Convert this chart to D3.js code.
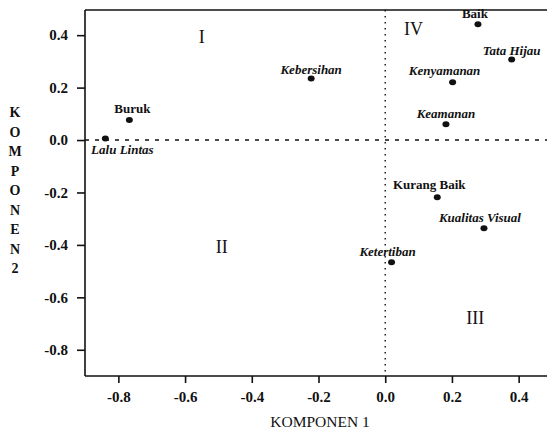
<!DOCTYPE html>
<html>
<head>
<meta charset="utf-8">
<script src="https://cdn.jsdelivr.net/npm/d3@7"></script>
<style>
  html, body { margin: 0; padding: 0; background: #fff; }
  svg { display: block; }
  text { font-family: "Liberation Serif", "DejaVu Serif", serif; fill: #111; }
</style>
</head>
<body>
<svg id="chart" width="547" height="436"></svg>
<script>
// ---- data ----
const names = ["Baik", "Tata Hijau", "Kenyamanan", "Keamanan", "Kebersihan",
               "Kurang Baik", "Kualitas Visual", "Ketertiban", "Buruk", "Lalu Lintas"];
const komponen1 = [0.278, 0.379, 0.202, 0.182, -0.222, 0.156, 0.296, 0.019, -0.767, -0.839];
const komponen2 = [0.442, 0.307, 0.220, 0.060, 0.235, -0.218, -0.336, -0.466, 0.076, 0.006];
const xTicks = [-0.8, -0.6, -0.4, -0.2, 0.0, 0.2, 0.4];
const yTicks = [-0.8, -0.6, -0.4, -0.2, 0.0, 0.2, 0.4];
const quadrants = [
  {label: "I",   x: -0.55, y: 0.37},
  {label: "IV",  x: 0.085, y: 0.40},
  {label: "II",  x: -0.49, y: -0.43},
  {label: "III", x: 0.27,  y: -0.70}
];
const xTitle = "KOMPONEN 1";
const yTitle = "KOMPONEN 2";

// ---- layout / style (kept separate from data) ----
const labelStyle = {
  "Baik":            {dx: -3, dy: -6,  italic: false},
  "Tata Hijau":      {dx: 0,  dy: -5,  italic: true},
  "Kenyamanan":      {dx: -8, dy: -7,  italic: true},
  "Keamanan":        {dx: 0,  dy: -6,  italic: true},
  "Kebersihan":      {dx: 0,  dy: -4,  italic: true},
  "Kurang Baik":     {dx: -8, dy: -8,  italic: false},
  "Kualitas Visual": {dx: -4, dy: -6,  italic: true},
  "Ketertiban":      {dx: -4, dy: -6,  italic: true},
  "Buruk":           {dx: 3,  dy: -7,  italic: false},
  "Lalu Lintas":     {dx: 17, dy: 16,  italic: true}
};

const svg = d3.select("#chart");
const pLeft = 85, pRight = 547, pTop = 10, pBottom = 376;

const x = d3.scaleLinear().domain([-0.9, 0.485]).range([pLeft, pRight]);
const y = d3.scaleLinear().domain([-0.9, 0.496]).range([pBottom, pTop]);
const fmt = d => d.toFixed(1);

// frame top line
svg.append("line")
  .attr("x1", pLeft).attr("x2", pRight).attr("y1", pTop).attr("y2", pTop)
  .attr("stroke", "#111").attr("stroke-width", 1.6);

// axes
const gx = svg.append("g").attr("transform", `translate(0,${pBottom})`)
  .call(d3.axisBottom(x).tickValues(xTicks).tickFormat(fmt).tickSize(7).tickPadding(8).tickSizeOuter(0));
const gy = svg.append("g").attr("transform", `translate(${pLeft},0)`)
  .call(d3.axisLeft(y).tickValues(yTicks).tickFormat(fmt).tickSize(8).tickPadding(9).tickSizeOuter(0));
[gx, gy].forEach(g => {
  g.select(".domain").attr("stroke", "#111").attr("stroke-width", 1.6);
  g.selectAll(".tick line").attr("stroke", "#111").attr("stroke-width", 1.6);
  g.selectAll(".tick text")
    .style("font-family", '"Liberation Serif", "DejaVu Serif", serif')
    .style("font-size", "15px").style("font-weight", "bold").attr("fill", "#111");
});
gx.select(".domain").attr("d", `M${pLeft},0H${pRight}`);
gy.select(".domain").attr("d", `M0,${pTop}V${pBottom}`);

// reference lines at zero
svg.append("line")
  .attr("x1", pLeft).attr("x2", pRight).attr("y1", y(0)).attr("y2", y(0))
  .attr("stroke", "#111").attr("stroke-width", 1.4).attr("stroke-dasharray", "4,6");
svg.append("line")
  .attr("x1", x(0)).attr("x2", x(0)).attr("y1", pTop).attr("y2", pBottom)
  .attr("stroke", "#111").attr("stroke-width", 1.4).attr("stroke-dasharray", "1.6,4.4");

// quadrant labels
svg.selectAll(".quad").data(quadrants).enter().append("text")
  .attr("class", "quad")
  .attr("x", d => x(d.x)).attr("y", d => y(d.y))
  .attr("text-anchor", "middle")
  .style("font-size", "18px")
  .text(d => d.label);

// points
const pts = names.map((n, i) => ({name: n, k1: komponen1[i], k2: komponen2[i]}));
svg.selectAll(".pt").data(pts).enter().append("ellipse")
  .attr("class", "pt")
  .attr("cx", d => x(d.k1)).attr("cy", d => y(d.k2))
  .attr("rx", 3.5).attr("ry", 3)
  .attr("fill", "#111");

svg.selectAll(".lbl").data(pts).enter().append("text")
  .attr("class", "lbl")
  .attr("x", d => x(d.k1) + labelStyle[d.name].dx)
  .attr("y", d => y(d.k2) + labelStyle[d.name].dy)
  .attr("text-anchor", "middle")
  .style("font-size", "13px")
  .style("font-weight", "bold")
  .style("font-style", d => labelStyle[d.name].italic ? "italic" : "normal")
  .text(d => d.name);

// axis titles
svg.append("text")
  .attr("x", 320).attr("y", 427)
  .attr("text-anchor", "middle")
  .style("font-size", "15.5px")
  .text(xTitle);

const yLetters = yTitle.replace(" ", "").split("");
svg.selectAll(".ylet").data(yLetters).enter().append("text")
  .attr("class", "ylet")
  .attr("x", 15)
  .attr("y", (d, i) => 117 + i * 19.5)
  .attr("text-anchor", "middle")
  .style("font-size", "14px").style("font-weight", "bold")
  .text(d => d);
</script>
</body>
</html>
